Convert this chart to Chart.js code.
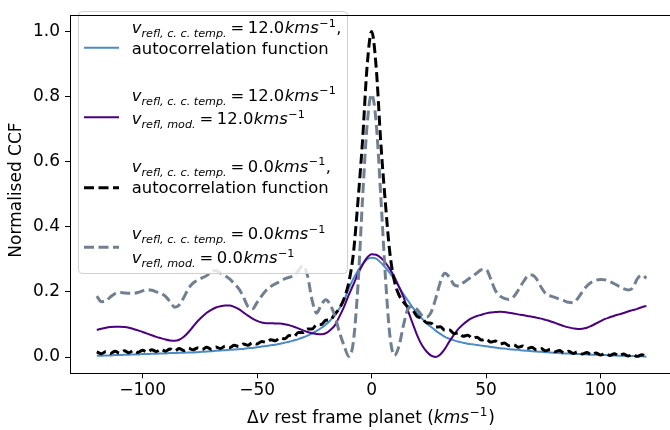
<!DOCTYPE html>
<html>
<head>
<meta charset="utf-8">
<script src="https://cdn.jsdelivr.net/npm/chart.js@4.4.1/dist/chart.umd.min.js"></script>
<style>
  html, body { margin: 0; padding: 0; background: #fff; overflow: hidden; }
  #wrap { width: 670px; height: 430px; }
</style>
</head>
<body>
<div id="wrap"><canvas id="ccf" width="670" height="430"></canvas></div>
<script>
// Velocity grid of the cross-correlation functions (km/s)
const velocity = [
  -120,-118,-116,-114,-112,-110,-108,-106,-104,-102,
  -100,-98,-96,-94,-92,-90,-88,-86,-84,-82,
  -80,-78,-76,-74,-72,-70,-68,-66,-64,-62,
  -60,-58,-56,-54,-52,-50,-48,-46,-44,-42,
  -40,-38,-36,-34,-32,-30,-28,-26,-24,-22,
  -20,-18,-16,-14,-12,-10,-8,-6,-4,-2,
  0,
  2,4,6,8,10,12,14,16,18,20,
  22,24,26,28,30,32,34,36,38,40,
  42,44,46,48,50,52,54,56,58,60,
  62,64,66,68,70,72,74,76,78,80,
  82,84,86,88,90,92,94,96,98,100,
  102,104,106,108,110,112,114,116,118,120
];

// v_refl,c.c.temp = 12 km/s, autocorrelation function
const acf12 = [
  0.004,0.004,0.005,0.005,0.006,0.006,0.007,0.007,0.008,0.008,
  0.009,0.009,0.010,0.010,0.011,0.011,0.012,0.012,0.013,0.013,
  0.014,0.014,0.015,0.016,0.017,0.018,0.019,0.020,0.021,0.022,
  0.023,0.024,0.025,0.027,0.028,0.030,0.032,0.034,0.036,0.038,
  0.041,0.044,0.047,0.051,0.055,0.060,0.066,0.073,0.080,0.089,
  0.100,0.113,0.130,0.150,0.175,0.210,0.240,0.265,0.285,0.300,
  0.305,
  0.302,0.290,0.275,0.258,0.238,0.215,0.192,0.172,0.152,0.134,
  0.118,0.104,0.092,0.081,0.071,0.062,0.056,0.051,0.047,0.044,
  0.041,0.039,0.037,0.035,0.033,0.031,0.029,0.027,0.026,0.024,
  0.023,0.022,0.020,0.019,0.018,0.017,0.016,0.015,0.014,0.013,
  0.012,0.011,0.011,0.010,0.009,0.009,0.008,0.007,0.007,0.006,
  0.006,0.005,0.005,0.004,0.004,0.003,0.003,0.002,0.002,0.001
];

// v_refl,c.c.temp = 12 km/s, v_refl,mod = 12 km/s
const ccf12 = [
  0.083,0.087,0.090,0.092,0.093,0.093,0.092,0.090,0.086,0.082,
  0.077,0.072,0.067,0.062,0.058,0.054,0.051,0.050,0.053,0.062,
  0.076,0.093,0.110,0.124,0.136,0.145,0.152,0.156,0.158,0.158,
  0.154,0.147,0.137,0.127,0.118,0.111,0.106,0.104,0.104,0.103,
  0.103,0.101,0.098,0.093,0.088,0.082,0.077,0.073,0.071,0.070,
  0.073,0.083,0.098,0.125,0.155,0.190,0.222,0.255,0.283,0.305,
  0.316,
  0.314,0.305,0.290,0.270,0.245,0.215,0.183,0.140,0.102,0.065,
  0.036,0.017,0.004,0.000,0.008,0.025,0.048,0.069,0.087,0.101,
  0.112,0.120,0.126,0.130,0.134,0.137,0.138,0.139,0.138,0.136,
  0.134,0.131,0.129,0.126,0.124,0.121,0.118,0.114,0.110,0.105,
  0.100,0.095,0.091,0.088,0.086,0.087,0.090,0.096,0.103,0.110,
  0.117,0.122,0.127,0.131,0.135,0.140,0.144,0.148,0.153,0.157
];

// v_refl,c.c.temp = 0 km/s, autocorrelation function
const acf0 = [
  0.016,0.010,0.017,0.011,0.018,0.012,0.019,0.013,0.020,0.014,
  0.021,0.015,0.022,0.017,0.024,0.018,0.025,0.019,0.026,0.020,
  0.027,0.022,0.028,0.023,0.030,0.024,0.031,0.026,0.033,0.029,
  0.036,0.032,0.040,0.036,0.044,0.040,0.048,0.045,0.053,0.050,
  0.059,0.056,0.066,0.063,0.075,0.075,0.086,0.086,0.099,0.100,
  0.113,0.115,0.132,0.150,0.180,0.228,0.315,0.475,0.660,0.890,
  1.000,
  0.890,0.660,0.475,0.318,0.232,0.190,0.168,0.153,0.143,0.124,
  0.119,0.105,0.104,0.092,0.093,0.082,0.083,0.072,0.074,0.064,
  0.067,0.058,0.061,0.052,0.055,0.046,0.049,0.040,0.043,0.035,
  0.038,0.030,0.034,0.026,0.030,0.022,0.026,0.019,0.023,0.016,
  0.020,0.013,0.018,0.011,0.016,0.009,0.014,0.007,0.012,0.006,
  0.011,0.005,0.010,0.004,0.009,0.003,0.008,0.002,0.007,0.001
];

// v_refl,c.c.temp = 0 km/s, v_refl,mod = 0 km/s
const ccf0 = [
  0.187,0.170,0.172,0.185,0.195,0.198,0.197,0.196,0.196,0.198,
  0.203,0.207,0.205,0.200,0.196,0.186,0.170,0.153,0.160,0.183,
  0.210,0.227,0.236,0.243,0.250,0.263,0.266,0.258,0.250,0.240,
  0.225,0.210,0.185,0.155,0.148,0.168,0.188,0.205,0.217,0.225,
  0.232,0.240,0.245,0.250,0.265,0.281,0.250,0.175,0.135,0.160,
  0.176,0.160,0.125,0.075,0.035,0.002,0.045,0.215,0.480,0.710,
  0.807,
  0.720,0.495,0.250,0.065,0.005,0.035,0.100,0.150,0.155,0.145,
  0.128,0.123,0.138,0.180,0.230,0.257,0.245,0.222,0.218,0.228,
  0.238,0.248,0.258,0.268,0.268,0.240,0.205,0.188,0.180,0.177,
  0.185,0.205,0.228,0.248,0.252,0.240,0.215,0.195,0.188,0.183,
  0.178,0.173,0.168,0.167,0.180,0.200,0.218,0.230,0.236,0.238,
  0.237,0.232,0.225,0.217,0.210,0.206,0.212,0.240,0.252,0.242
];

const xTicks = [-100, -50, 0, 50, 100];
const yTicks = [0.0, 0.2, 0.4, 0.6, 0.8, 1.0];

const FAMILY = '"DejaVu Sans", "Liberation Sans", sans-serif';
const fnt = (size, italic) => (italic ? 'italic ' : '') + size + 'px ' + FAMILY;

function toPoints(ys) {
  return velocity.map((v, i) => ({ x: v, y: ys[i] }));
}

function minusFmt(v) {
  return v < 0 ? '\u2212' + Math.abs(v) : String(v);
}

// Series styles
const styles = [
  { color: '#4a8bc8', width: 2, dash: [] },
  { color: '#4b0082', width: 2, dash: [] },
  { color: '#000000', width: 3, dash: [10, 4.5] },
  { color: '#708090', width: 3, dash: [10, 4.5] }
];
const seriesData = [acf12, ccf12, acf0, ccf0];

// Draws a run of text pieces with different fonts / offsets
function drawRich(ctx, x, y, parts, measureOnly) {
  let cx = x;
  for (const p of parts) {
    ctx.font = p.f;
    cx += p.g || 0;
    if (!measureOnly) ctx.fillText(p.t, cx, y + (p.dy || 0));
    cx += ctx.measureText(p.t).width;
  }
  return cx - x;
}

const LS = 16.4;           // legend font size
const LSS = 11.2;          // legend sub/superscript size
function mathLabel(sub, value, comma) {
  const parts = [
    { t: 'v', f: fnt(LS, true) },
    { t: sub, f: fnt(LSS, true), dy: 4 },
    { t: '=', f: fnt(LS, false), g: 4 },
    { t: value, f: fnt(LS, false), g: 3.5 },
    { t: 'kms', f: fnt(LS, true), g: 0.5 },
    { t: '\u22121', f: fnt(LSS, false), dy: -6.5, g: 0.5 }
  ];
  if (comma) parts.push({ t: ',', f: fnt(LS, false), g: 0.5 });
  return parts;
}
const plain = (t) => [{ t: t, f: fnt(LS, false) }];

const legendItems = [
  { sampleY: 47.7, lines: [[33.3, mathLabel('refl, c. c. temp.', '12.0', true)], [54.3, plain('autocorrelation function')]] },
  { sampleY: 117.3, lines: [[100.7, mathLabel('refl, c. c. temp.', '12.0', false)], [124.0, mathLabel('refl, mod.', '12.0', false)]] },
  { sampleY: 187.7, lines: [[171.7, mathLabel('refl, c. c. temp.', '0.0', true)], [193.3, plain('autocorrelation function')]] },
  { sampleY: 247.3, lines: [[239.3, mathLabel('refl, c. c. temp.', '0.0', false)], [263.3, mathLabel('refl, mod.', '0.0', false)]] }
];

const legendPlugin = {
  id: 'mathLegend',
  afterDatasetsDraw(chart) {
    const ctx = chart.ctx;
    ctx.save();
    const bx = 78.5, by = 11.5, bw = 269, bh = 262, r = 4;
    ctx.beginPath();
    ctx.moveTo(bx + r, by);
    ctx.lineTo(bx + bw - r, by);
    ctx.arcTo(bx + bw, by, bx + bw, by + r, r);
    ctx.lineTo(bx + bw, by + bh - r);
    ctx.arcTo(bx + bw, by + bh, bx + bw - r, by + bh, r);
    ctx.lineTo(bx + r, by + bh);
    ctx.arcTo(bx, by + bh, bx, by + bh - r, r);
    ctx.lineTo(bx, by + r);
    ctx.arcTo(bx, by, bx + r, by, r);
    ctx.closePath();
    ctx.fillStyle = 'rgba(255,255,255,0.8)';
    ctx.fill();
    ctx.strokeStyle = '#d0d0d0';
    ctx.lineWidth = 1;
    ctx.stroke();

    legendItems.forEach((item, i) => {
      const st = styles[i];
      ctx.beginPath();
      ctx.setLineDash(st.dash);
      ctx.lineCap = 'butt';
      ctx.strokeStyle = st.color;
      ctx.lineWidth = st.width;
      ctx.moveTo(84, item.sampleY);
      ctx.lineTo(119, item.sampleY);
      ctx.stroke();
      ctx.setLineDash([]);
      ctx.fillStyle = '#000';
      ctx.textBaseline = 'alphabetic';
      ctx.textAlign = 'left';
      item.lines.forEach(([baseY, parts]) => drawRich(ctx, 131.7, baseY, parts));
    });
    ctx.restore();
  },
  afterDraw(chart) {
    const ctx = chart.ctx;
    const a = chart.chartArea;
    ctx.save();
    // top spine
    ctx.strokeStyle = '#000';
    ctx.lineWidth = 1;
    ctx.beginPath();
    ctx.moveTo(a.left, Math.round(a.top) + 0.5);
    ctx.lineTo(a.right, Math.round(a.top) + 0.5);
    ctx.stroke();

    ctx.fillStyle = '#000';
    ctx.textAlign = 'left';
    ctx.textBaseline = 'alphabetic';
    // x axis title
    const xt = [
      { t: '\u0394', f: fnt(17, false) },
      { t: 'v', f: fnt(17, true) },
      { t: ' rest frame planet (', f: fnt(17, false) },
      { t: 'kms', f: fnt(17, true) },
      { t: '\u22121', f: fnt(12, false), dy: -7, g: 0.5 },
      { t: ')', f: fnt(17, false), g: 1 }
    ];
    const w = drawRich(ctx, 0, 0, xt, true);
    drawRich(ctx, 371 - w / 2, 423.3, xt);

    // y axis title
    ctx.translate(17, 190);
    ctx.rotate(-Math.PI / 2);
    ctx.textAlign = 'center';
    ctx.textBaseline = 'middle';
    ctx.font = fnt(17, false);
    ctx.fillText('Normalised CCF', 0, 0);
    ctx.restore();
  }
};

new Chart(document.getElementById('ccf'), {
  type: 'line',
  data: {
    datasets: seriesData.map((ys, i) => ({
      data: toPoints(ys),
      borderColor: styles[i].color,
      borderWidth: styles[i].width,
      borderDash: styles[i].dash,
      borderCapStyle: 'butt',
      borderJoinStyle: 'round',
      pointRadius: 0,
      fill: false,
      cubicInterpolationMode: 'monotone',
      order: seriesData.length - i
    }))
  },
  options: {
    responsive: false,
    animation: false,
    devicePixelRatio: 1,
    layout: { padding: { top: 3.3, left: 0, right: 0, bottom: 0 } },
    plugins: { legend: { display: false }, tooltip: { enabled: false } },
    scales: {
      x: {
        type: 'linear',
        min: -131.7,
        max: 130.3,
        afterBuildTicks: (s) => { s.ticks = xTicks.map(v => ({ value: v })); },
        afterFit: (s) => { s.height = 56.7; },
        grid: { display: true, drawOnChartArea: false, drawTicks: true, tickLength: 5, color: '#000', lineWidth: 1 },
        border: { display: true, color: '#000', width: 1 },
        ticks: {
          font: { family: FAMILY, size: 17 },
          color: '#000',
          padding: 2,
          maxRotation: 0,
          autoSkip: false,
          callback: (v) => minusFmt(v)
        }
      },
      y: {
        type: 'linear',
        min: -0.05,
        max: 1.05,
        afterBuildTicks: (s) => { s.ticks = yTicks.map(v => ({ value: v })); },
        afterFit: (s) => { s.width = 70; },
        grid: { display: true, drawOnChartArea: false, drawTicks: true, tickLength: 5, color: '#000', lineWidth: 1 },
        border: { display: true, color: '#000', width: 1 },
        ticks: {
          font: { family: FAMILY, size: 17 },
          color: '#000',
          padding: 5,
          autoSkip: false,
          callback: (v) => v.toFixed(1)
        }
      }
    }
  },
  plugins: [legendPlugin]
});
</script>
</body>
</html>
